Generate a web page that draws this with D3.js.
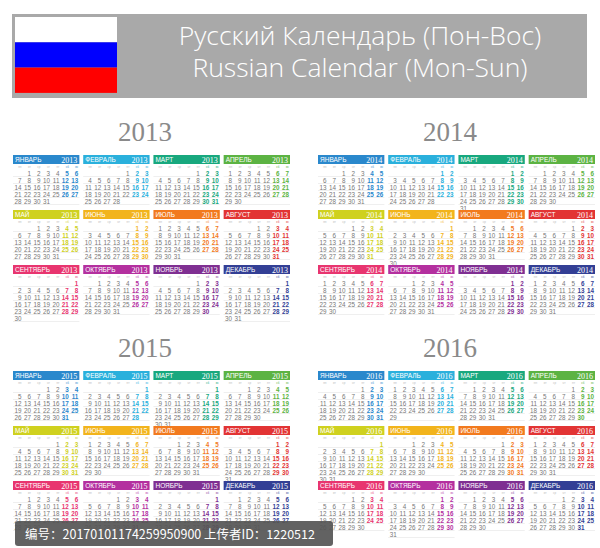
<!DOCTYPE html>
<html><head><meta charset="utf-8">
<script src="https://cdn.jsdelivr.net/npm/d3@7"></script>
<style>body{margin:0;background:#fff}svg{display:block}</style>
</head><body>
<script>
var years = [2013, 2014, 2015, 2016];
var monthNames = ["ЯНВАРЬ","ФЕВРАЛЬ","МАРТ","АПРЕЛЬ","МАЙ","ИЮНЬ","ИЮЛЬ","АВГУСТ","СЕНТЯБРЬ","ОКТЯБРЬ","НОЯБРЬ","ДЕКАБРЬ"];
var monthColors = ["#2a88cc","#2ab0dc","#18a87e","#5cb343","#cfd11f","#f2b41c","#f27a1e","#e23434","#e8356f","#b4309f","#7f2f92","#333f95"];
var weekdayLabels = ["пн","вт","ср","чт","пт","сб","вс"];
var titleLines = ["Русский Календарь (Пон-Вос)", "Russian Calendar (Mon-Sun)"];

var W = 600, H = 548;
var svg = d3.select("body").append("svg").attr("width", W).attr("height", H);

// header
svg.append("rect").attr("x", 12).attr("y", 14).attr("width", 575).attr("height", 84).attr("fill", "#a9a9a9");
var flag = ["#ffffff", "#0000ff", "#ff0000"];
flag.forEach(function (c, i) {
    svg.append("rect").attr("x", 15).attr("y", 17 + i * 25.3).attr("width", 102).attr("height", 25.3).attr("fill", c);
});
titleLines.forEach(function (t, i) {
    svg.append("text").attr("x", 360).attr("y", 45 + i * 32).attr("text-anchor", "middle")
      .attr("font-family", "Open Sans, sans-serif").attr("font-weight", 300).attr("font-size", 26.5)
      .attr("fill", "#fff").text(t);
});

var colX = d3.scaleBand().domain(d3.range(4)).range([13, 290]).paddingInner(0.055);
var cellX = d3.scaleBand().domain(d3.range(7)).range([0, colX.bandwidth()]);

years.forEach(function (yr, yi) {
    var gx = (yi % 2) * 305, gy = Math.floor(yi / 2) * 216;
    svg.append("text").attr("x", 145 + gx).attr("y", 141 + gy).attr("text-anchor", "middle")
      .attr("font-family", "Liberation Serif, serif").attr("font-size", 27).attr("fill", "#8a8a8a").text(yr);
    d3.range(12).forEach(function (m) {
        var x0 = gx + colX(m % 4), y0 = gy + 155 + Math.floor(m / 4) * 55;
        var w = colX.bandwidth(), col = monthColors[m];
        var g = svg.append("g").attr("transform", "translate(" + x0 + "," + y0 + ")");
        g.append("rect").attr("width", w).attr("height", 9).attr("fill", col);
        g.append("text").attr("x", 2).attr("y", 7.3).attr("font-family", "Liberation Sans, sans-serif")
          .attr("font-size", 6.5).attr("fill", "#fff").text(monthNames[m]);
        g.append("text").attr("x", w - 2).attr("y", 7.5).attr("text-anchor", "end").attr("font-family", "Liberation Serif, serif")
          .attr("font-size", 8).attr("fill", "#fff").text(yr);
        weekdayLabels.forEach(function (d, i) {
            g.append("text").attr("x", cellX(i) + cellX.bandwidth() - 1).attr("y", 13).attr("text-anchor", "end")
              .attr("font-family", "Liberation Sans, sans-serif").attr("font-size", 3)
              .attr("fill", i > 4 ? col : "#bbb").text(d);
        });
        var days = d3.timeDays(new Date(yr, m, 1), new Date(yr, m + 1, 1));
        var off = (days[0].getDay() + 6) % 7;
        var nRows = Math.ceil((off + days.length) / 7);
        d3.range(nRows).forEach(function (r) {
            g.append("line").attr("x1", 0).attr("x2", w).attr("y1", 21.5 + r * 7).attr("y2", 21.5 + r * 7)
              .attr("stroke", "#e4e4e4").attr("stroke-width", 0.6);
        });
        days.forEach(function (d, i) {
            var k = off + i, c = k % 7, r = Math.floor(k / 7);
            g.append("text").attr("x", cellX(c) + cellX.bandwidth() - 1).attr("y", 20.5 + r * 7).attr("text-anchor", "end")
              .attr("font-family", "Liberation Sans, sans-serif").attr("font-size", 6.3)
              .attr("font-weight", c > 4 ? "bold" : "normal")
              .attr("fill", c > 4 ? col : "#777").text(d.getDate());
        });
    });
});

// upload stamp
svg.append("rect").attr("x", 15).attr("y", 521).attr("width", 318).attr("height", 25).attr("rx", 3).attr("fill", "#555").attr("opacity", 0.92);
svg.append("text").attr("x", 25).attr("y", 539).attr("font-family", "Noto Sans CJK SC, sans-serif").attr("font-size", 12.5)
  .attr("fill", "#fff").text("编号：20170101174259950900 上传者ID：1220512");
</script>
</body></html>
